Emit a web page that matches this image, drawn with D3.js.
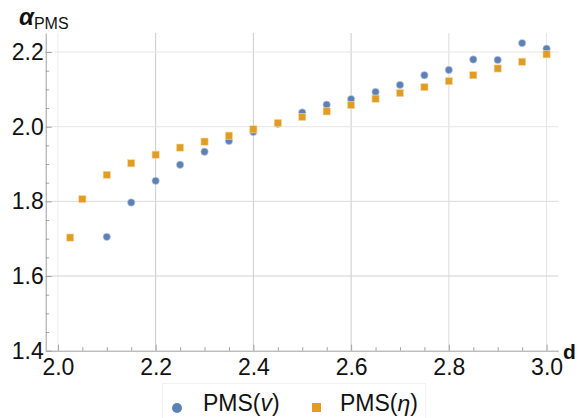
<!DOCTYPE html>
<html>
<head>
<meta charset="utf-8">
<script src="https://cdn.jsdelivr.net/npm/d3@7"></script>
<style>
  body { margin: 0; background: #fff; }
  svg { font-family: "Liberation Sans", Arial, sans-serif; }
  .axis path, .axis line { stroke: #a0a0a0; }
  .axis text { font-size: 23px; fill: #111; }
</style>
</head>
<body>
<div id="chart"></div>
<script>
// values
var dV = [2.1, 2.15, 2.2, 2.25, 2.3, 2.35, 2.4, 2.45, 2.5, 2.55, 2.6, 2.65, 2.7, 2.75, 2.8, 2.85, 2.9, 2.95, 3.0];
var alphaV = [1.705, 1.797, 1.855, 1.898, 1.933, 1.962, 1.986, 2.008, 2.038, 2.059, 2.074, 2.093, 2.112, 2.138, 2.152, 2.180, 2.179, 2.224, 2.209];

var dEta = [2.025, 2.05, 2.1, 2.15, 2.2, 2.25, 2.3, 2.35, 2.4, 2.45, 2.5, 2.55, 2.6, 2.65, 2.7, 2.75, 2.8, 2.85, 2.9, 2.95, 3.0];
var alphaEta = [1.703, 1.806, 1.871, 1.902, 1.925, 1.944, 1.960, 1.976, 1.993, 2.010, 2.026, 2.041, 2.058, 2.075, 2.090, 2.106, 2.122, 2.138, 2.156, 2.174, 2.194];

var xTicks = [2.0, 2.2, 2.4, 2.6, 2.8, 3.0];
var yTicks = [1.4, 1.6, 1.8, 2.0, 2.2];
var seriesNames = ["PMS(", ")"];

var width = 578, height = 418;

var svg = d3.select("#chart").append("svg")
    .attr("width", width)
    .attr("height", height);

var x = d3.scaleLinear().domain([1.975, 3.024]).range([45.7, 558.3]);
var y = d3.scaleLinear().domain([1.4, 2.251]).range([350.7, 33]);

var blue = "#5e81b5", orange = "#e19c24";

// grid lines
var vGridColor = ["#ececec", "#cbcbcb", "#cbcbcb", "#cbcbcb", "#dcdcdc", "#e6e6e6"];
var hGridColor = ["none", "#d2d2d2", "#dcdcdc", "#e6e6e6", "#e6e6e6"];

svg.append("g").selectAll("line").data(xTicks).enter().append("line")
    .attr("x1", d => x(d)).attr("x2", d => x(d))
    .attr("y1", y.range()[0]).attr("y2", y.range()[1])
    .attr("stroke", (d, i) => vGridColor[i]);

svg.append("g").selectAll("line").data(yTicks).enter().append("line")
    .attr("x1", x.range()[0]).attr("x2", x.range()[1])
    .attr("y1", d => y(d)).attr("y2", d => y(d))
    .attr("stroke", (d, i) => hGridColor[i]);

// minor ticks
var xMinor = d3.range(2.05, 3.0, 0.05).filter(d => Math.abs(d * 5 - Math.round(d * 5)) > 0.01);
var yMinor = d3.range(1.45, 2.25, 0.05).filter(d => Math.abs(d * 5 - Math.round(d * 5)) > 0.01);

svg.append("g")
    .attr("class", "axis")
    .attr("transform", "translate(0," + y.range()[0] + ")")
    .call(d3.axisBottom(x).tickValues(xMinor).tickSize(-3.5).tickFormat(""))
    .select(".domain").remove();

svg.append("g")
    .attr("class", "axis")
    .attr("transform", "translate(" + x.range()[0] + ",0)")
    .call(d3.axisLeft(y).tickValues(yMinor).tickSize(-3.5).tickFormat(""))
    .select(".domain").remove();

// major axes
var xAxis = svg.append("g")
    .attr("class", "axis")
    .attr("transform", "translate(0," + y.range()[0] + ")")
    .call(d3.axisBottom(x).tickValues(xTicks).tickSizeInner(-6).tickSizeOuter(0)
        .tickPadding(3).tickFormat(d3.format(".1f")));
xAxis.selectAll("text").attr("dy", "0.71em").attr("y", 8);

var yAxis = svg.append("g")
    .attr("class", "axis")
    .attr("transform", "translate(" + x.range()[0] + ",0)")
    .call(d3.axisLeft(y).tickValues(yTicks).tickSizeInner(-6).tickSizeOuter(0)
        .tickPadding(2).tickFormat(d3.format(".1f")));
yAxis.selectAll("text").attr("dy", "0.33em");

// points
svg.append("g").selectAll("circle").data(dV).enter().append("circle")
    .attr("cx", d => x(d))
    .attr("cy", (d, i) => y(alphaV[i]))
    .attr("r", 3.7)
    .attr("fill", blue)
    .attr("stroke", "#c9d5e8").attr("stroke-width", 0.6);

var sq = 7.2;
svg.append("g").selectAll("rect").data(dEta).enter().append("rect")
    .attr("x", d => x(d) - sq / 2)
    .attr("y", (d, i) => y(alphaEta[i]) - sq / 2)
    .attr("width", sq).attr("height", sq)
    .attr("fill", orange)
    .attr("stroke", "#f5dcae").attr("stroke-width", 0.6);

// axis labels
var yl = svg.append("text").attr("x", 19).attr("y", 25).attr("fill", "#111");
yl.append("tspan").text("α")
    .attr("font-size", 24).attr("font-weight", "bold").attr("font-style", "italic");
yl.append("tspan").text("PMS").attr("font-size", 16).attr("dy", 4);

svg.append("text").attr("x", 563).attr("y", 359)
    .attr("font-size", 21).attr("font-weight", "bold").attr("fill", "#111")
    .text("d");

// legend
var legend = svg.append("g");
legend.append("rect")
    .attr("x", 162.5).attr("y", 383.5).attr("width", 263).attr("height", 40)
    .attr("fill", "none").attr("stroke", "#f2f2f2");

legend.append("circle").attr("cx", 177).attr("cy", 408).attr("r", 5).attr("fill", blue);
var t1 = legend.append("text").attr("x", 203).attr("y", 411).attr("font-size", 23).attr("fill", "#111");
t1.append("tspan").text(seriesNames[0]);
t1.append("tspan").text("v").attr("font-style", "italic");
t1.append("tspan").text(seriesNames[1]);

legend.append("rect").attr("x", 312).attr("y", 403).attr("width", 9).attr("height", 9).attr("fill", orange);
var t2 = legend.append("text").attr("x", 340).attr("y", 411).attr("font-size", 23).attr("fill", "#111");
t2.append("tspan").text(seriesNames[0]);
t2.append("tspan").text("η").attr("font-style", "italic");
t2.append("tspan").text(seriesNames[1]);
</script>
</body>
</html>
